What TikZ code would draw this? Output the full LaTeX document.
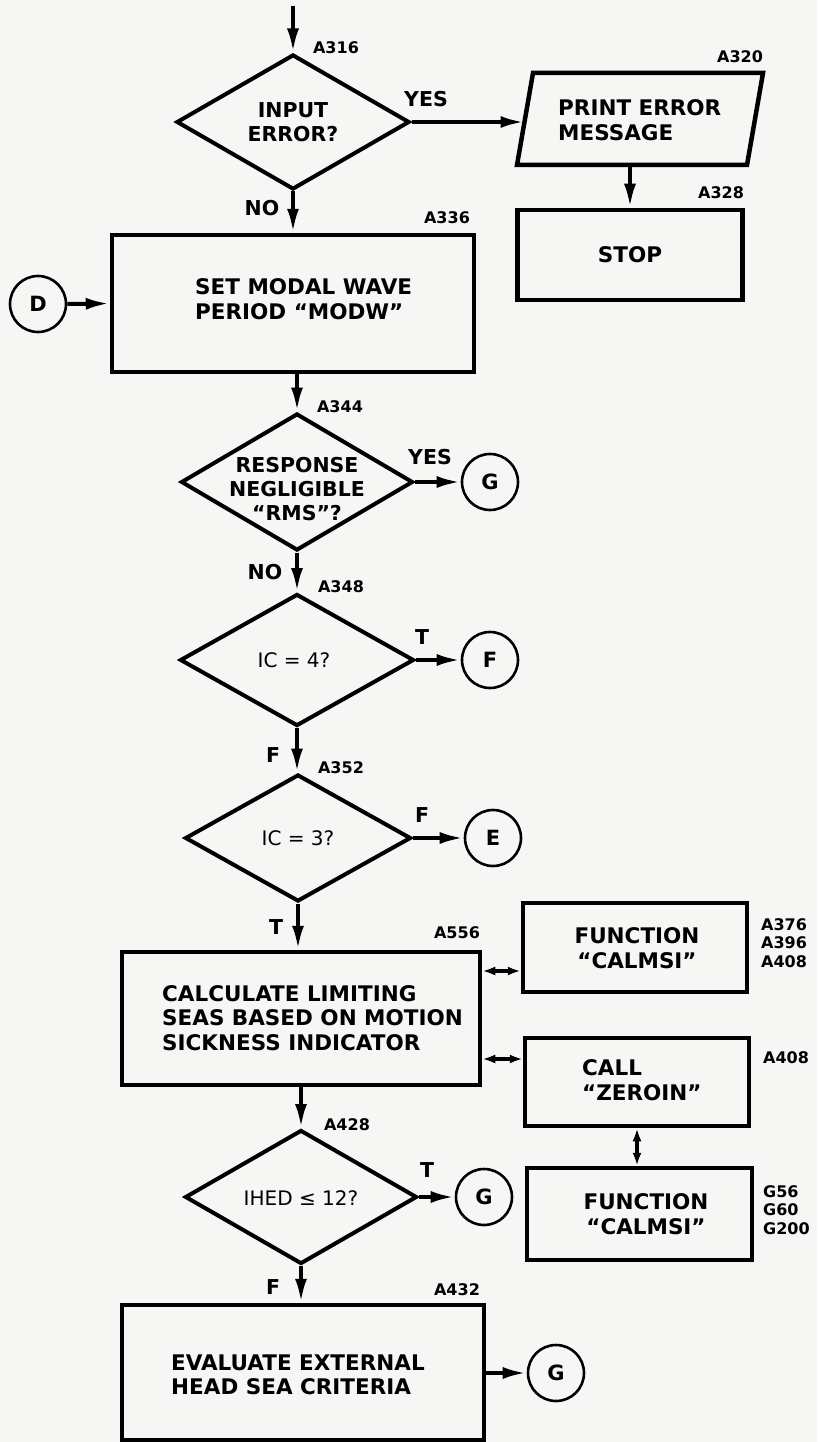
\documentclass[tikz,border=0pt]{standalone}
\usepackage{fontspec}
\setmainfont{DejaVu Sans}
\usetikzlibrary{shapes.geometric,arrows.meta}
\definecolor{paper}{RGB}{246,246,244}
\begin{document}
\begin{tikzpicture}[x=1pt,y=-1pt,
  box/.style={draw,line width=4.5pt,rectangle,inner sep=0pt},
  dia/.style={draw,line width=4pt,diamond,inner sep=0pt},
  conn/.style={draw,line width=2.6pt,circle,minimum size=56pt,inner sep=0pt,font=\fontsize{21}{24}\selectfont\bfseries},
  txt/.style={font=\fontsize{20.5}{24}\selectfont\bfseries,align=center,inner sep=0pt},
  btxt/.style={font=\fontsize{21.5}{24.5}\selectfont\bfseries,align=center,inner sep=0pt},
  ltxt/.style={font=\fontsize{21.5}{24.5}\selectfont\bfseries,align=left,inner sep=0pt,anchor=west},
  qtxt/.style={font=\fontsize{20}{24}\selectfont,inner sep=0pt},
  lab/.style={font=\fontsize{16}{19}\selectfont\bfseries,inner sep=0pt},
  labl/.style={font=\fontsize{16}{18.5}\selectfont\bfseries,inner sep=0pt,align=left,anchor=west},
  yn/.style={font=\fontsize{20.5}{24}\selectfont\bfseries,inner sep=0pt},
  arr/.style={line width=4pt,-{Latex[length=24pt,width=12pt]}},
  dbl/.style={line width=4pt,{Latex[length=13pt,width=9pt]}-{Latex[length=13pt,width=9pt]}}
]
\fill[paper] (0,0) rectangle (817,1442);
\useasboundingbox (0,0) rectangle (817,1442);

% ---- top: input error
\coordinate (top) at (293,6);
\node[dia,minimum width=233pt,minimum height=135pt] (d1) at (293,122) {};
\node[txt] (d1t) at (293,122) {INPUT\\ERROR?};
\node[lab] (l316) at (336,48) {A316};
\node[yn] (yes1) at (426,99) {YES};
\node[yn] (no1) at (262,208) {NO};

\draw[line width=4.5pt,line join=miter] (517,165) -- (533,73) -- (763,73) -- (747,165) -- cycle;
\coordinate (pemw) at (524.5,122);
\coordinate (pems) at (630,165);
\node[ltxt] (pemt) at (558,120) {PRINT ERROR\\MESSAGE};
\node[lab] (l320) at (740,57) {A320};
\node[box,minimum width=225pt,minimum height=90pt] (stop) at (630,255) {};
\node[btxt] (stopt) at (630,255) {STOP};
\node[lab] (l328) at (721,193) {A328};

% ---- modal wave period
\node[box,minimum width=362pt,minimum height=137pt] (modal) at (293,303.5) {};
\node[ltxt] (modalt) at (195,299) {SET MODAL WAVE\\PERIOD “MODW”};
\node[lab] (l336) at (447,218) {A336};
\node[conn] (D) at (38,304) {D};

% ---- response negligible
\node[dia,minimum width=232pt,minimum height=137pt] (d2) at (297,482) {};
\node[txt] (d2t) at (297,489) {RESPONSE\\NEGLIGIBLE\\“RMS”?};
\node[lab] (l344) at (340,407) {A344};
\node[yn] (yes2) at (430,457) {YES};
\node[conn] (G1) at (490,482) {G};
\node[yn] (no2) at (265,572) {NO};

% ---- IC = 4?
\node[dia,minimum width=234pt,minimum height=132pt] (d3) at (297,660) {};
\node[qtxt] (d3t) at (294,660) {IC = 4?};
\node[lab] (l348) at (341,587) {A348};
\node[yn] (t3) at (422,637) {T};
\node[conn] (F) at (490,660) {F};
\node[yn] (f3) at (273,755) {F};

% ---- IC = 3?
\node[dia,minimum width=226pt,minimum height=127pt] (d4) at (298,838) {};
\node[qtxt] (d4t) at (298,838) {IC = 3?};
\node[lab] (l352) at (341,768) {A352};
\node[yn] (f4) at (422,815) {F};
\node[conn] (E) at (493,838) {E};
\node[yn] (t4) at (276,927) {T};

% ---- calculate limiting seas
\node[box,minimum width=358pt,minimum height=133pt] (calc) at (301,1018.5) {};
\node[ltxt] (calct) at (162,1018) {CALCULATE LIMITING\\SEAS BASED ON MOTION\\SICKNESS INDICATOR};
\node[lab] (l556) at (457,933) {A556};

\node[box,minimum width=224pt,minimum height=89pt] (fn1) at (635,947.5) {};
\node[btxt] (fn1t) at (637,948) {FUNCTION\\“CALMSI”};
\node[labl] (lfn1) at (761,943) {A376\\A396\\A408};

\node[box,minimum width=224pt,minimum height=88pt] (call) at (637,1082) {};
\node[ltxt] (callt) at (582,1080) {CALL\\“ZEROIN”};
\node[labl] (lcall) at (763,1058) {A408};

\node[box,minimum width=225pt,minimum height=92pt] (fn2) at (639.5,1214) {};
\node[btxt] (fn2t) at (646,1214) {FUNCTION\\“CALMSI”};
\node[labl] (lfn2) at (763,1210) {G56\\G60\\G200};

% ---- IHED
\node[dia,minimum width=232pt,minimum height=134pt] (d5) at (301,1197) {};
\node[qtxt] (d5t) at (301,1198) {IHED ≤ 12?};
\node[lab] (l428) at (347,1125) {A428};
\node[yn] (t5) at (427,1170) {T};
\node[conn] (G2) at (484,1197) {G};
\node[yn] (f5) at (273,1287) {F};

% ---- evaluate
\node[box,minimum width=362pt,minimum height=135pt] (eval) at (303,1372.5) {};
\node[ltxt] (evalt) at (171,1375) {EVALUATE EXTERNAL\\HEAD SEA CRITERIA};
\node[lab] (l432) at (457,1290) {A432};
\node[conn] (G3) at (556,1373) {G};

% ---- connectors
\coordinate (y1) at (0,971);
\coordinate (y2) at (0,1059);
\draw[arr] (top) -- (d1.north);
\draw[arr] (d1.east) -- (pemw);
\draw[arr] (pems) -- (stop.north -| pems);
\draw[arr] (d1.south) -- (d1.south |- modal.north);
\draw[arr] (D.east) -- (modal.west);
\draw[arr] (d2.north |- modal.south) -- (d2.north);
\draw[arr] (d2.east) -- (G1.west);
\draw[arr] (d2.south) -- (d2.south |- d3.north);
\draw[arr] (d3.east) -- (F.west);
\draw[arr] (d3.south) -- (d3.south |- d4.north);
\draw[arr] (d4.east) -- (E.west);
\draw[arr] (d4.south) -- (d4.south |- calc.north);
\draw[dbl] (calc.east |- y1) -- (fn1.west |- y1);
\draw[dbl] (calc.east |- y2) -- (call.west |- y2);
\draw[dbl] (call.south) -- (call.south |- fn2.north);
\draw[arr] (d5.north |- calc.south) -- (d5.north);
\draw[arr] (d5.east) -- (G2.west);
\draw[arr] (d5.south) -- (d5.south |- eval.north);
\draw[arr] (eval.east |- G3.west) -- (G3.west);
\end{tikzpicture}
\end{document}
